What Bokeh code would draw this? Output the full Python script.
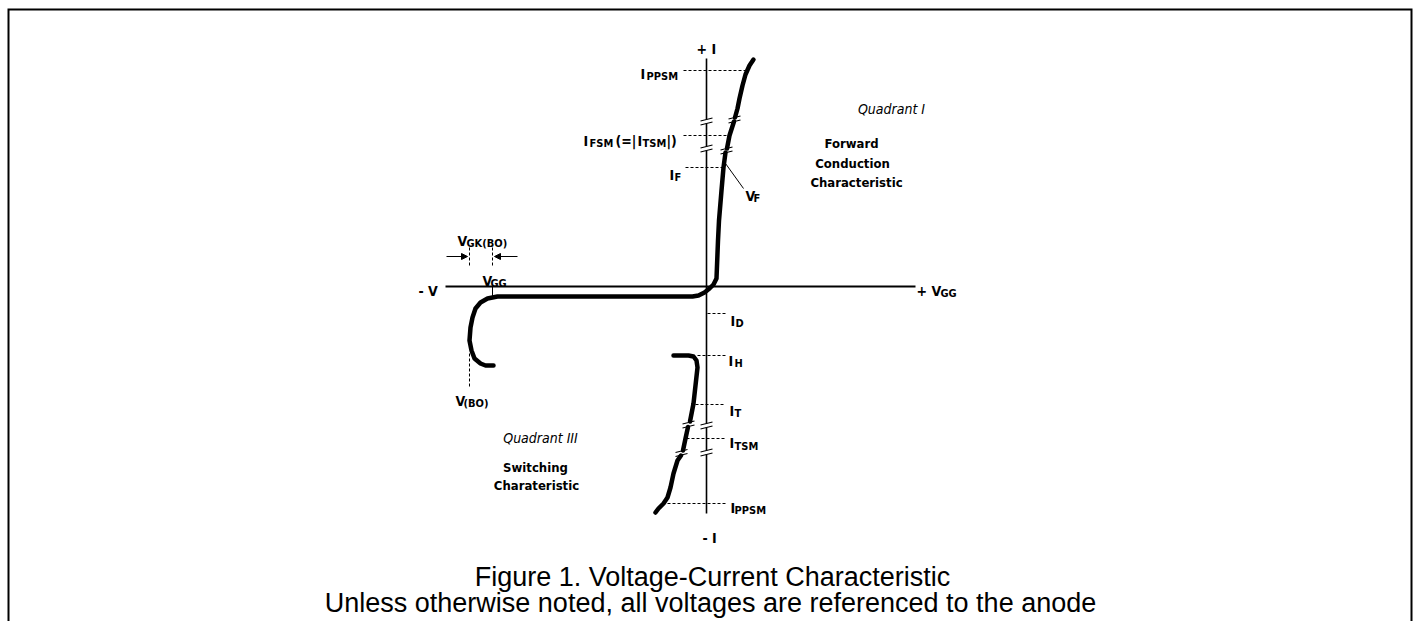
from bokeh.plotting import figure
from bokeh.models import Range1d, Arrow, NormalHead
from bokeh.core.properties import value
from bokeh.embed import file_html
from bokeh.resources import INLINE

# ---------------- data (picture units) ----------------
# characteristic curve, split at the axis-break marks
seg_a_x = [493, 485, 480, 474, 471, 469, 470, 472, 475, 480, 487, 497, 692, 698, 704, 709, 713, 716, 717.5, 718.5, 721, 723, 725]
seg_a_y = [365, 365, 363, 358, 350, 340, 327, 317, 308, 302, 298, 296, 296, 295, 292, 288, 284, 278, 240, 220, 190, 167, 152]
seg_b_x = [726.5, 729, 733.5]
seg_b_y = [148, 135, 121]
seg_c_x = [734.5, 737, 739, 742, 745, 749, 753]
seg_c_y = [117, 108, 98, 85, 74, 65, 59]
seg_d_x = [673, 688, 693, 696, 697, 695, 693, 689.5]
seg_d_y = [355, 355, 356, 360, 367, 385, 403, 421]
seg_e_x = [687.5, 685, 682.5]
seg_e_y = [426.5, 438, 450]
seg_f_x = [680.5, 677, 673, 670, 667, 663, 658, 655]
seg_f_y = [455, 460, 473, 487, 497, 503, 508, 512]

# axes
v_axis_x = 706
v_axis_top, v_axis_bottom = 58, 513
h_axis_y = 286
h_axis_left, h_axis_right = 445, 915
axis_breaks_y = [121, 148, 425, 452]
curve_breaks_x = [734, 726, 688, 681]
curve_breaks_y = [119, 150, 424, 452.5]

# dashed reference lines: (x0, x1, y)
dash_h_x0 = [683, 683, 685, 707, 697, 695, 686, 667]
dash_h_x1 = [747, 729, 723, 727, 725, 725, 725, 725]
dash_h_y = [70, 135, 167, 313, 355, 404, 438, 503]
dash_v_x = [469, 492, 469]
dash_v_y0 = [247, 247, 353]
dash_v_y1 = [267, 267, 387]

# big label parts
main_txt = ["I", "I", "(=|", "I", "|)", "I", "V", "I", "I", "I", "I", "I", "V", "V", "V", "+ V", "- V", "+ I", "- I"]
main_x = [640, 583, 615, 637, 666, 669, 745, 730, 728, 729, 729, 730, 482, 457, 455, 916, 418, 696, 702]
main_y = [73, 140, 140, 140, 140, 174, 195, 320, 360, 410, 442, 507, 280, 240, 400, 290, 290, 48, 537]
# subscripts
sub_txt = ["PPSM", "FSM", "TSM", "F", "F", "D", "H", "T", "TSM", "PPSM", "GG", "GK(BO)", "(BO)", "GG"]
sub_x = [646, 589, 642, 674, 753, 735, 734, 734, 734, 734, 490, 466, 463, 940]
sub_y = [76, 143, 143, 177, 198, 323, 363, 413, 446, 510, 283, 243, 403, 293]

quad_txt = ["Quadrant I", "Quadrant III"]
quad_x = [891, 540]
quad_y = [108, 437]
desc_txt = ["Forward", "Conduction", "Characteristic", "Switching", "Charateristic"]
desc_x = [851, 852, 856, 535, 536]
desc_y = [143, 163, 182, 467, 485]

caption = ["Figure 1. Voltage-Current Characteristic",
           "Unless otherwise noted, all voltages are referenced to the anode"]
caption_x = [712, 710]
caption_y = [576, 602]

# ---------------- figure ----------------
W, H = 1416, 621
p = figure(width=W, height=H, x_range=Range1d(0, W), y_range=Range1d(H, 0),
           output_backend="svg", toolbar_location=None, min_border=0,
           x_axis_type=None, y_axis_type=None)
p.outline_line_color = None
p.grid.visible = False
p.background_fill_color = "white"
p.border_fill_color = "white"

# page border (open at the bottom)
p.line([8, 8, 1411, 1411], [H + 5, 9, 9, H + 5], line_color="black", line_width=2, line_join="miter")

# vertical axis with breaks
gap = 2
ys = [v_axis_top]
for b in axis_breaks_y:
    ys += [b - gap, b + gap]
ys.append(v_axis_bottom)
ax_xs = [[v_axis_x, v_axis_x] for i in range(0, len(ys), 2)]
ax_ys = [[ys[i], ys[i + 1]] for i in range(0, len(ys), 2)]
p.multi_line(ax_xs, ax_ys, line_color="black", line_width=1.6)
# horizontal axis
p.line([h_axis_left, h_axis_right], [h_axis_y, h_axis_y], line_color="black", line_width=2)

# break marks (axis and curve)
bx = [v_axis_x] * len(axis_breaks_y) + curve_breaks_x
by = axis_breaks_y + curve_breaks_y
mark_xs, mark_ys = [], []
for x, y in zip(bx, by):
    mark_xs += [[x - 6, x + 6], [x - 6, x + 6]]
    mark_ys += [[y - 0.5, y - 3.5], [y + 3.5, y + 0.5]]
p.multi_line(mark_xs, mark_ys, line_color="black", line_width=1.1)

# curve
p.multi_line([seg_a_x, seg_b_x, seg_c_x, seg_d_x, seg_e_x, seg_f_x],
             [seg_a_y, seg_b_y, seg_c_y, seg_d_y, seg_e_y, seg_f_y],
             line_color="black", line_width=4.5, line_cap="round", line_join="round")

# dashed reference lines
p.segment(dash_h_x0, dash_h_y, dash_h_x1, dash_h_y, line_color="black", line_width=1, line_dash="3 2")
p.segment(dash_v_x, dash_v_y0, dash_v_x, dash_v_y1, line_color="black", line_width=1, line_dash="3 2")

# thin solid leaders
p.segment([725, 492], [163, 286], [743, 492], [188, 296], line_color="black", line_width=1)

# V_GK(BO) arrows
p.add_layout(Arrow(x_start=446, y_start=256, x_end=467, y_end=256, line_width=1,
                   end=NormalHead(size=6, fill_color="black", line_color="black")))
p.add_layout(Arrow(x_start=517, y_start=256, x_end=494, y_end=256, line_width=1,
                   end=NormalHead(size=6, fill_color="black", line_color="black")))

FONT = value("DejaVu Sans Condensed")
p.text(main_x, main_y, text=main_txt, text_font=FONT, text_font_style="bold",
       text_font_size="14px", text_align="left", text_baseline="alphabetic", text_color="black")
p.text(sub_x, sub_y, text=sub_txt, text_font=FONT, text_font_style="bold",
       text_font_size="11px", text_align="left", text_baseline="alphabetic", text_color="black")
p.text(quad_x, quad_y, text=quad_txt, text_font=FONT, text_font_style="italic",
       text_font_size="14px", text_align="center", text_baseline="alphabetic", text_color="black")
p.text(desc_x, desc_y, text=desc_txt, text_font=FONT, text_font_style="bold",
       text_font_size="13px", text_align="center", text_baseline="alphabetic", text_color="black")
p.text(caption_x, caption_y, text=caption, text_font=value("Liberation Sans"),
       text_font_size="27px", text_align="center", text_baseline="alphabetic", text_color="black")

open("out.html", "w").write(file_html(p, INLINE))
